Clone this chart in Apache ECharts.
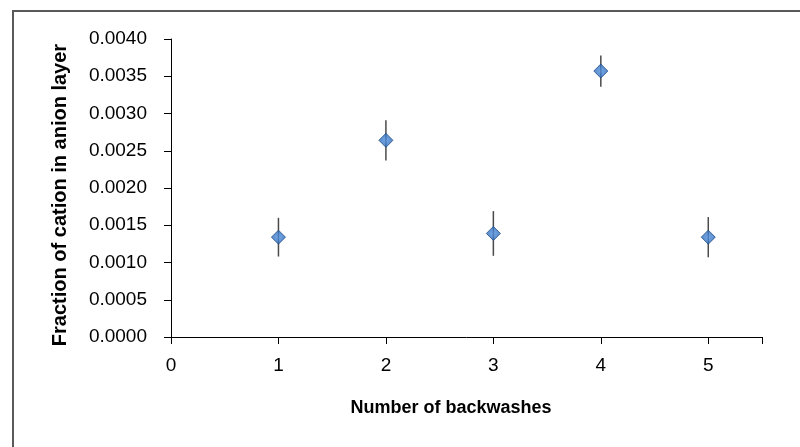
<!DOCTYPE html>
<html>
<head>
<meta charset="utf-8">
<script src="https://cdn.jsdelivr.net/npm/echarts@6/dist/echarts.min.js"></script>
<style>html,body{margin:0;padding:0;background:#fff;}#c{width:800px;height:447px;}</style>
</head>
<body>
<div id="c"></div>
<script>
const backwashes = [1, 2, 3, 4, 5];
const fraction = [0.00134, 0.00264, 0.00139, 0.00357, 0.00134];
const errorAmt = [0.00026, 0.00027, 0.00030, 0.00021, 0.00027];
const yTicks = [0, 0.0005, 0.001, 0.0015, 0.002, 0.0025, 0.003, 0.0035, 0.004];
const xTitle = 'Number of backwashes';
const yTitle = 'Fraction of cation in anion layer';

const chart = echarts.init(document.getElementById('c'), null, {renderer: 'canvas'});
const font = 'Liberation Sans, Arial, sans-serif';
const pts = backwashes.map((x, i) => [x, fraction[i]]);
const errs = backwashes.map((x, i) => [x, fraction[i] - errorAmt[i], fraction[i] + errorAmt[i]]);

chart.setOption({
  animation: false,
  backgroundColor: '#fff',
  graphic: [
    {
      type: 'rect', left: 12, top: 10, z: -1,
      shape: {width: 800, height: 450},
      style: {fill: '#fff', stroke: '#595959', lineWidth: 2}
    },
    {
      type: 'text', x: 451, y: 408, z: 5,
      style: {text: xTitle, font: 'bold 18px ' + font, fill: '#000', align: 'center', verticalAlign: 'middle'}
    },
    {
      type: 'text', x: 60, y: 195, rotation: Math.PI / 2, z: 5,
      style: {text: yTitle, font: 'bold 20px ' + font, fill: '#000', align: 'center', verticalAlign: 'middle'}
    }
  ],
  grid: {left: 171, right: 38, top: 39, bottom: 110},
  xAxis: {
    type: 'value', min: 0, max: 5.5, interval: 1,
    axisLine: {lineStyle: {color: '#000', width: 1}},
    axisTick: {show: true, inside: false, length: 7, lineStyle: {color: '#000'}},
    axisLabel: {fontFamily: font, fontSize: 19, color: '#000', margin: 19,
      formatter: v => (Number.isInteger(v) ? String(v) : '')},
    splitLine: {show: false}
  },
  yAxis: {
    type: 'value', min: yTicks[0], max: yTicks[yTicks.length - 1], interval: 0.0005,
    axisLine: {show: true, lineStyle: {color: '#000', width: 1}},
    axisTick: {show: true, inside: false, length: 7, lineStyle: {color: '#000'}},
    axisLabel: {fontFamily: font, fontSize: 19, color: '#000', margin: 24,
      formatter: v => v.toFixed(4)},
    splitLine: {show: false}
  },
  series: [
    {
      type: 'custom',
      data: errs,
      z: 1,
      renderItem: function (params, api) {
        const x = api.value(0);
        const lo = api.coord([x, api.value(1)]);
        const hi = api.coord([x, api.value(2)]);
        return {
          type: 'line',
          shape: {x1: lo[0], y1: lo[1], x2: hi[0], y2: hi[1]},
          style: {stroke: '#4a4a4a', lineWidth: 1.5}
        };
      }
    },
    {
      type: 'scatter',
      data: pts,
      z: 3,
      symbol: 'diamond',
      symbolSize: [14, 14],
      itemStyle: {
        color: new echarts.graphic.RadialGradient(0.5, 0.5, 0.6, [
          {offset: 0, color: '#4f8fdf'},
          {offset: 1, color: '#2a64b0'}
        ]),
        borderColor: '#1c4a86', borderWidth: 1
      }
    }
  ]
});
</script>
</body>
</html>
